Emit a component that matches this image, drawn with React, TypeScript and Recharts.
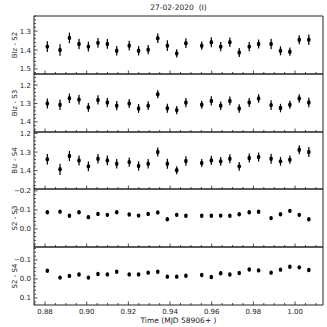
import { ScatterChart, Scatter, XAxis, YAxis, ErrorBar } from "recharts";

// MJD - 58906
const times = [
  0.8811, 0.8872, 0.8917, 0.8963, 0.9008, 0.9054, 0.9099, 0.9144, 0.9204, 0.9249,
  0.9295, 0.9341, 0.9387, 0.9432, 0.9476, 0.9552, 0.9598, 0.9643, 0.9687, 0.9732,
  0.978, 0.9825, 0.9885, 0.993, 0.9975, 1.002, 1.0066,
];

const blzS2 = [
  1.382, 1.4, 1.336, 1.368, 1.382, 1.362, 1.368, 1.404, 1.377, 1.404,
  1.398, 1.338, 1.377, 1.418, 1.364, 1.377, 1.359, 1.382, 1.359, 1.413,
  1.382, 1.368, 1.368, 1.404, 1.409, 1.346, 1.346,
];
const blzS2Err = [
  0.028, 0.03, 0.028, 0.028, 0.026, 0.026, 0.026, 0.025, 0.026, 0.025,
  0.025, 0.025, 0.028, 0.022, 0.026, 0.022, 0.026, 0.024, 0.025, 0.024,
  0.024, 0.024, 0.028, 0.024, 0.022, 0.024, 0.028,
];

const blzS3 = [
  1.3, 1.307, 1.272, 1.279, 1.321, 1.281, 1.295, 1.312, 1.3, 1.327,
  1.312, 1.25, 1.326, 1.336, 1.295, 1.307, 1.286, 1.312, 1.286, 1.327,
  1.295, 1.273, 1.309, 1.325, 1.307, 1.273, 1.295,
];
const blzS3Err = [
  0.027, 0.028, 0.026, 0.026, 0.024, 0.025, 0.025, 0.025, 0.024, 0.024,
  0.024, 0.022, 0.025, 0.022, 0.025, 0.022, 0.025, 0.023, 0.024, 0.023,
  0.024, 0.023, 0.027, 0.023, 0.022, 0.023, 0.026,
];

const blzS4 = [
  1.339, 1.393, 1.321, 1.345, 1.377, 1.336, 1.345, 1.363, 1.354, 1.375,
  1.363, 1.3, 1.363, 1.398, 1.348, 1.359, 1.345, 1.35, 1.336, 1.377,
  1.332, 1.327, 1.336, 1.35, 1.341, 1.288, 1.3,
];
const blzS4Err = [
  0.028, 0.03, 0.027, 0.027, 0.026, 0.026, 0.026, 0.025, 0.025, 0.025,
  0.025, 0.024, 0.027, 0.022, 0.026, 0.022, 0.025, 0.024, 0.024, 0.024,
  0.024, 0.024, 0.027, 0.024, 0.022, 0.024, 0.027,
];

const s2s3 = [
  -0.088, -0.091, -0.069, -0.088, -0.062, -0.079, -0.074, -0.088, -0.076, -0.07,
  -0.079, -0.087, -0.051, -0.074, -0.069, -0.069, -0.069, -0.07, -0.069, -0.077,
  -0.088, -0.09, -0.057, -0.077, -0.095, -0.074, -0.051,
];
const s2s3Err = Array(27).fill(0.007);

const s2s4 = [
  -0.043, -0.007, -0.016, -0.023, -0.007, -0.026, -0.024, -0.038, -0.024, -0.024,
  -0.033, -0.038, -0.012, -0.012, -0.017, -0.021, -0.01, -0.03, -0.023, -0.031,
  -0.05, -0.045, -0.033, -0.049, -0.064, -0.061, -0.047,
];
const s2s4Err = Array(27).fill(0.007);

const X_DOMAIN: [number, number] = [0.8747, 1.0134];
const FONT = '"DejaVu Sans", sans-serif';
const INK = "#1a1a1a";
const FRAME = "#222";
const PANEL_TOPS = [16, 74, 132, 189, 247];
const PANEL_BOTTOM = 305;

function stepTicks(domain: [number, number], step: number) {
  const lo = Math.min(domain[0], domain[1]);
  const hi = Math.max(domain[0], domain[1]);
  const out: number[] = [];
  for (let k = Math.ceil(lo / step - 1e-9); k * step <= hi + 1e-9; k++) {
    out.push(Number((k * step).toFixed(4)));
  }
  return out;
}

const xTicks = stepTicks(X_DOMAIN, 0.005);

function isMultiple(v: number, step: number) {
  const r = v / step;
  return Math.abs(r - Math.round(r)) < 1e-6;
}

function XTick(props: any) {
  const { x, y, payload, showLabel } = props;
  const v = payload.value as number;
  const major = isMultiple(v, 0.02);
  return (
    <g>
      <line x1={x} x2={x} y1={y} y2={y - (major ? 3.5 : 2)} stroke={FRAME} strokeWidth={0.8} />
      {showLabel && major && (
        <text x={x} y={y + 9} textAnchor="middle" fontSize={7} fontFamily={FONT} fill={INK}>
          {v.toFixed(2)}
        </text>
      )}
    </g>
  );
}

function YTick(props: any) {
  const { x, y, payload } = props;
  const v = payload.value as number;
  const major = isMultiple(v, 0.1);
  return (
    <g>
      <line x1={x} x2={x + (major ? 3.5 : 2)} y1={y} y2={y} stroke={FRAME} strokeWidth={0.8} />
      {major && (
        <text x={x - 3} y={y + 2.5} textAnchor="end" fontSize={7} fontFamily={FONT} fill={INK}>
          {v.toFixed(1).replace("-", "\u2212")}
        </text>
      )}
    </g>
  );
}

function Panel({
  name,
  vals,
  errs,
  domain,
  index,
}: {
  name: string;
  vals: number[];
  errs: number[];
  domain: [number, number];
  index: number;
}) {
  const last = index === PANEL_TOPS.length - 1;
  const top = PANEL_TOPS[index];
  const bottom = last ? PANEL_BOTTOM : PANEL_TOPS[index + 1];
  const ph = bottom - top;
  const extra = last ? 22 : 0;
  const data = times.map((t, i) => ({ t, v: vals[i], e: errs[i] }));
  const midY = 1 + ph / 2;

  return (
    <div style={{ position: "absolute", left: 0, top: top - 1 }}>
      <ScatterChart
        width={327}
        height={ph + 2 + extra}
        margin={{ top: 0, right: 3, bottom: extra, left: 0 }}
      >
        <XAxis
          type="number"
          dataKey="t"
          domain={X_DOMAIN}
          allowDataOverflow
          ticks={xTicks}
          interval={0}
          height={1}
          tickSize={0}
          tickMargin={0}
          tickLine={false}
          axisLine={{ stroke: FRAME, strokeWidth: 1 }}
          tick={<XTick showLabel={last} />}
        />
        <XAxis
          xAxisId="top"
          orientation="top"
          type="number"
          domain={X_DOMAIN}
          height={1}
          tick={false}
          tickLine={false}
          axisLine={{ stroke: FRAME, strokeWidth: 1 }}
        />
        <YAxis
          type="number"
          dataKey="v"
          domain={domain}
          allowDataOverflow
          reversed
          ticks={stepTicks(domain, 0.02)}
          interval={0}
          width={34}
          tickSize={0}
          tickMargin={0}
          tickLine={false}
          axisLine={{ stroke: FRAME, strokeWidth: 1 }}
          tick={<YTick />}
          label={() => (
            <text
              x={17}
              y={midY}
              transform={`rotate(-90 17 ${midY})`}
              textAnchor="middle"
              fontSize={7}
              fontFamily={FONT}
              fill={INK}
            >
              {name}
            </text>
          )}
        />
        <YAxis
          yAxisId="right"
          orientation="right"
          type="number"
          domain={[0, 1]}
          width={1}
          tick={false}
          tickLine={false}
          axisLine={{ stroke: FRAME, strokeWidth: 1 }}
        />
        <Scatter
          data={data}
          isAnimationActive={false}
          shape={(p: any) => <ellipse cx={p.cx} cy={p.cy} rx={1.8} ry={2.2} fill="#000" />}
        >
          <ErrorBar
            dataKey="e"
            direction="y"
            width={0}
            stroke="#000"
            strokeWidth={1.2}
            isAnimationActive={false}
          />
        </Scatter>
      </ScatterChart>
      {last && (
        <div
          style={{
            position: "absolute",
            left: 34,
            width: 289,
            top: ph + 12,
            textAlign: "center",
            fontSize: 7.5,
            fontFamily: FONT,
            color: INK,
            lineHeight: "9px",
          }}
        >
          Time (MJD 58906+ )
        </div>
      )}
    </div>
  );
}

export default function App() {
  return (
    <div
      style={{
        position: "absolute",
        left: 0,
        top: 0,
        width: 327,
        height: 327,
        background: "#fff",
      }}
    >
      <div
        style={{
          position: "absolute",
          left: 34,
          width: 289,
          top: 3,
          textAlign: "center",
          fontSize: 7.5,
          fontFamily: FONT,
          color: INK,
          lineHeight: "9px",
          whiteSpace: "pre",
        }}
      >
        {"27-02-2020  (I)"}
      </div>
      <Panel name="Blz - S2" vals={blzS2} errs={blzS2Err} domain={[1.22, 1.527]} index={0} />
      <Panel name="Blz - S3" vals={blzS3} errs={blzS3Err} domain={[1.14, 1.455]} index={1} />
      <Panel name="Blz - S4" vals={blzS4} errs={blzS4Err} domain={[1.192, 1.499]} index={2} />
      <Panel name="S2 - S3" vals={s2s3} errs={s2s3Err} domain={[-0.21, 0.095]} index={3} />
      <Panel name="S2 - S4" vals={s2s4} errs={s2s4Err} domain={[-0.168, 0.137]} index={4} />
    </div>
  );
}
